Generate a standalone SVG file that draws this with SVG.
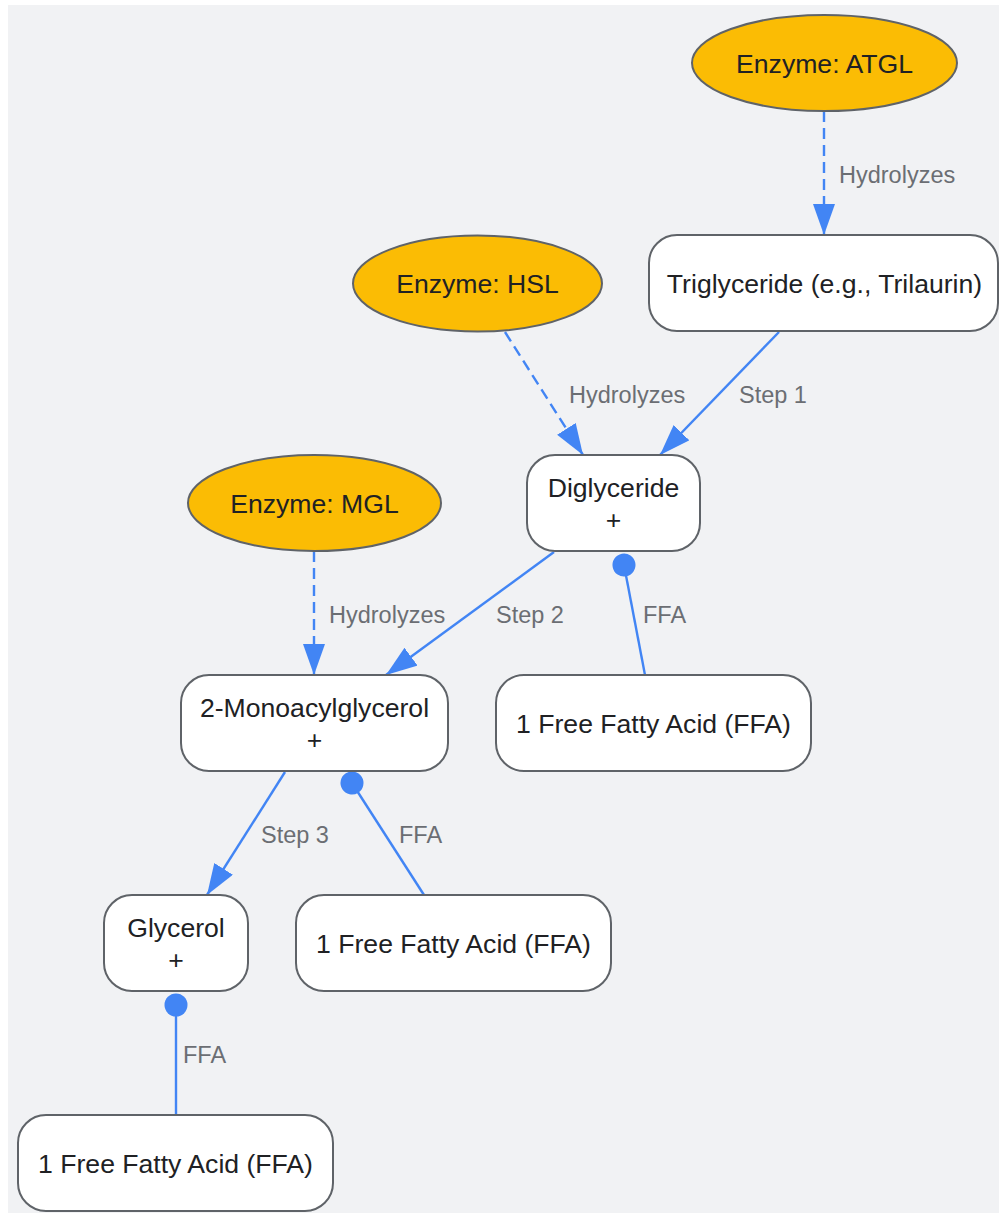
<svg xmlns="http://www.w3.org/2000/svg" width="999" height="1215" viewBox="0 0 999 1215">
<style>
.bg{fill:#f1f2f4}
.enz{fill:#fbbc04;stroke:#5f6368;stroke-width:2}
.box{fill:#ffffff;stroke:#5f6368;stroke-width:2}
.nt{font-family:"Liberation Sans",Arial,sans-serif;font-size:26.6px;fill:#202124;text-anchor:middle}
.el{font-family:"Liberation Sans",Arial,sans-serif;font-size:23.5px;fill:#6b6e73}
.e{fill:none;stroke:#4285f4;stroke-width:2.4}
.d{stroke-dasharray:11 6}
.a{marker-end:url(#arrow)}
.c{marker-start:url(#dot)}
</style>
<defs>
<marker id="arrow" markerUnits="userSpaceOnUse" markerWidth="34" markerHeight="24" refX="31" refY="11" orient="auto">
<path d="M0,0 L31,11 L0,22 z" fill="#4285f4"/>
</marker>
<marker id="dot" markerUnits="userSpaceOnUse" markerWidth="26" markerHeight="26" refX="13" refY="13" orient="auto">
<circle cx="13" cy="13" r="11.5" fill="#4285f4"/>
</marker>
</defs>
<rect class="bg" x="8" y="5" width="991" height="1208"/>
<g id="connectors">
<path class="e d a" d="M824,111 L824,235"/>
<path class="e d a" d="M505,332 L583,455"/>
<path class="e a" d="M779,332 L660,455"/>
<path class="e d a" d="M314,551 L314,675"/>
<path class="e a" d="M554,552 L386,675"/>
<path class="e c" d="M624,565 L645,675"/>
<path class="e a" d="M285,772 L207,895"/>
<path class="e c" d="M352,783 L424,895"/>
<path class="e c" d="M176,1005 L176,1115"/>
<text class="el" x="839" y="183">Hydrolyzes</text>
<text class="el" x="569" y="403">Hydrolyzes</text>
<text class="el" x="739" y="403">Step 1</text>
<text class="el" x="329" y="623">Hydrolyzes</text>
<text class="el" x="496" y="623">Step 2</text>
<text class="el" x="643" y="623">FFA</text>
<text class="el" x="261" y="843">Step 3</text>
<text class="el" x="399" y="843">FFA</text>
<text class="el" x="183" y="1063">FFA</text>
</g>
<g id="atgl"><ellipse class="enz" cx="824.5" cy="63" rx="132.5" ry="48"/><text class="nt" x="824.5" y="73">Enzyme: ATGL</text></g>
<g id="tg"><rect class="box" x="649" y="235" width="349" height="96" rx="28"/><text class="nt" x="824.5" y="293">Triglyceride (e.g., Trilaurin)</text></g>
<g id="hsl"><ellipse class="enz" cx="477.5" cy="283.5" rx="124.5" ry="48"/><text class="nt" x="477.5" y="293">Enzyme: HSL</text></g>
<g id="dg"><rect class="box" x="527" y="455" width="173" height="96" rx="28"/><text class="nt" x="613.5" y="497">Diglyceride</text><text class="nt" x="613.5" y="529">+</text></g>
<g id="mgl"><ellipse class="enz" cx="314.5" cy="503" rx="126.5" ry="48"/><text class="nt" x="314.5" y="513">Enzyme: MGL</text></g>
<g id="mag"><rect class="box" x="181" y="675" width="267" height="96" rx="28"/><text class="nt" x="314.5" y="717">2-Monoacylglycerol</text><text class="nt" x="314.5" y="749">+</text></g>
<g id="ffa1"><rect class="box" x="496" y="675" width="315" height="96" rx="28"/><text class="nt" x="653.5" y="733">1 Free Fatty Acid (FFA)</text></g>
<g id="gly"><rect class="box" x="104" y="895" width="144" height="96" rx="28"/><text class="nt" x="176" y="937">Glycerol</text><text class="nt" x="176" y="969">+</text></g>
<g id="ffa2"><rect class="box" x="296" y="895" width="315" height="96" rx="28"/><text class="nt" x="453.5" y="953">1 Free Fatty Acid (FFA)</text></g>
<g id="ffa3"><rect class="box" x="18" y="1115" width="315" height="96" rx="28"/><text class="nt" x="175.5" y="1173">1 Free Fatty Acid (FFA)</text></g>
</svg>
